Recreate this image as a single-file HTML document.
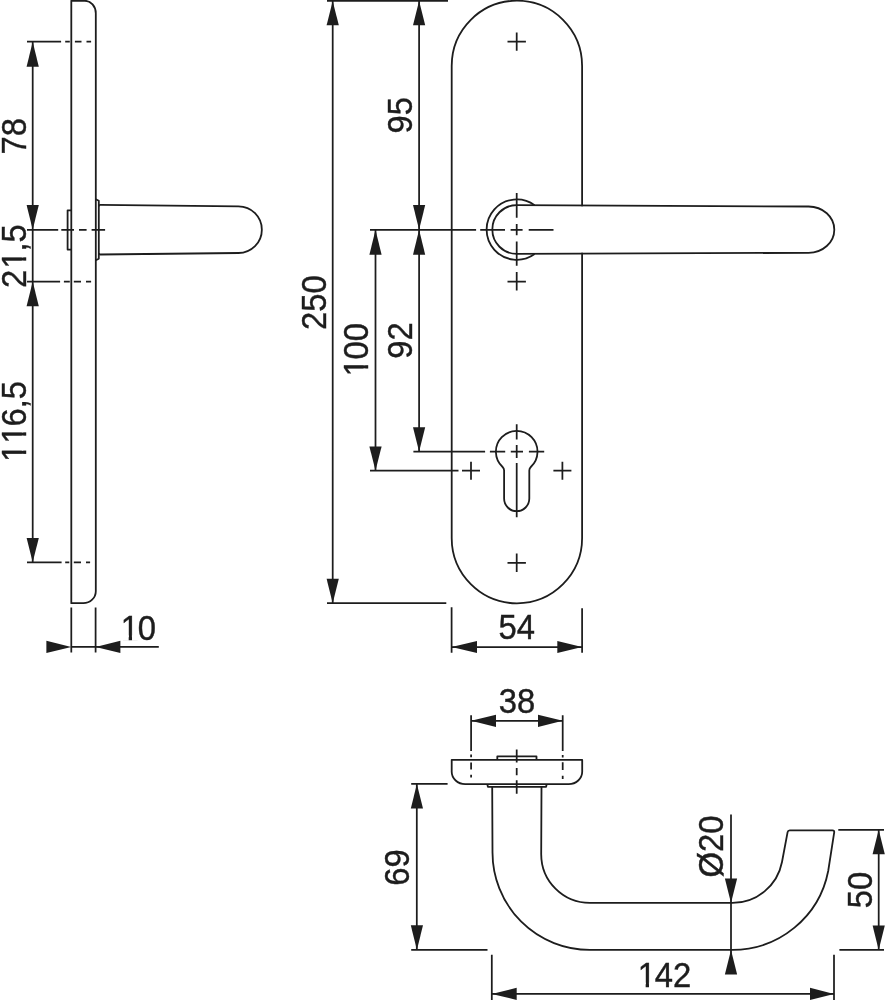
<!DOCTYPE html>
<html>
<head>
<meta charset="utf-8">
<title>Drawing</title>
<style>
html,body{margin:0;padding:0;background:#fff;}
body{width:886px;height:1000px;overflow:hidden;}
svg{display:block;will-change:transform;filter:grayscale(1);}
text{font-family:"Liberation Sans",sans-serif;font-size:32.8px;fill:#1d1d1b;stroke:#1d1d1b;stroke-width:0.4px;font-kerning:none;}
.o{fill:none;stroke:#1d1d1b;stroke-width:1.8;stroke-linecap:butt;stroke-linejoin:round;}
.d{fill:none;stroke:#1d1d1b;stroke-width:1.75;}
.a{fill:#1d1d1b;stroke:none;}
</style>
</head>
<body>
<svg width="886" height="1000" viewBox="0 0 886 1000">
<rect width="886" height="1000" fill="#fff"/>

<!-- ================= SIDE VIEW ================= -->
<g id="side">
<path class="o" d="M71.3 0.8 H84.8 A11 12.5 0 0 1 95.8 13.3 V591.2 A12.5 12 0 0 1 83.3 603.2 H71.3 Z"/>
<!-- spindle back -->
<path class="o" d="M71.3 210.3 H67.6 V249.6 H71.3"/>
<!-- rose -->
<path class="o" d="M95.8 199.2 L98.8 200.8 V258.6 L95.8 260.2"/>
<!-- handle -->
<path class="o" d="M98.8 206.4 Q98.8 204.9 100.3 204.9 L238.5 206.3 A23.35 23.35 0 0 1 238.5 253 L100.3 254.5 Q98.8 254.5 98.8 253"/>
<!-- extension / centre lines -->
<path class="d" d="M27 41.7 H61.1 M65.2 41.7 H69.8 M74.9 41.7 H81.5 M86.5 41.7 H91.1"/>
<path class="d" d="M27 229.8 H58.2 M61.3 229.8 H74 M79 229.8 H86.6 M91.6 229.8 H105.1"/>
<path class="d" d="M27 281.6 H60.1 M63.9 281.6 H69.8 M73.8 281.6 H81 M86 281.6 H91.1"/>
<path class="d" d="M27 562.4 H61.6 M65.2 562.4 H69.3 M73.8 562.4 H81 M86 562.4 H90.1"/>
<!-- dim line -->
<path class="d" d="M32.7 41.7 V562.3"/>
<path class="a" d="M32.7 41.7 L26.6 66.8 H38.8 Z"/>
<path class="a" d="M32.7 229.8 L26.6 205.1 H38.8 Z"/>
<path class="a" d="M32.7 281.6 L26.6 306.2 H38.8 Z"/>
<path class="a" d="M32.7 562.3 L26.6 537.9 H38.8 Z"/>
<!-- 10 -->
<path class="d" d="M71.3 607.4 V652.5 M95.6 607.4 V652.5 M71.3 646.9 H158.8"/>
<path class="a" d="M71.3 646.9 L46.4 640.8 V653 Z"/>
<path class="a" d="M95.6 646.9 L120.4 640.8 V653 Z"/>
</g>

<!-- ================= FRONT VIEW ================= -->
<g id="front">
<path class="o" d="M582.1 206.3 V65.9 A65.2 65.2 0 0 0 451.7 65.9 V538.1 A65.2 65.2 0 0 0 582.1 538.1 V252.8"/>
<!-- crosses -->
<path class="d" d="M507.5 41.6 H525.9 M516.7 32.4 V50.8"/>
<path class="d" d="M507.5 281.6 H525.9 M516.7 272.1 V290.5"/>
<path class="d" d="M462 470.7 H480 M471 461.7 V479.7"/>
<path class="d" d="M553.4 470.7 H571.4 M562.4 461.7 V479.7"/>
<path class="d" d="M507.5 562.8 H525.9 M516.7 553.6 V572"/>
<!-- rose ring -->
<path class="o" d="M534.6 205.2 A30.2 30.2 0 1 0 534.6 254"/>
<!-- handle -->
<path class="o" d="M516.7 253.9 A24.4 24.4 0 0 1 516.7 205.1 L808.6 206.5 A25.7 23.15 0 0 1 808.6 252.8 Z"/>
<!-- centre lines -->
<path class="d" d="M370 229.8 H476.1 M480.2 229.8 H505 M510.6 229.8 H522.6 M528.7 229.8 H553.5"/>
<path class="d" d="M516.7 192.9 V217.7 M516.7 223.9 V235.3 M516.7 241.4 V265.7"/>
<!-- keyhole -->
<path class="o" d="M502.6 467 A20.8 20.8 0 1 1 530.8 467 Q529.3 468.4 529.3 470.6 V498.6 A12.6 12.6 0 0 1 504.1 498.6 V470.6 Q504.1 468.4 502.6 467 Z"/>
<path class="d" d="M413.4 451.7 H485.1 M489.9 451.7 H505.2 M510.8 451.7 H523 M528.9 451.7 H544.2"/>
<path class="d" d="M516.7 424.2 V439.6 M516.7 445 V458 M516.7 463 V517.2"/>
<path class="d" d="M370 470.7 H458.5"/>
<!-- dims -->
<path class="d" d="M327 0.7 H448" style="stroke-width:2"/>
<path class="d" d="M327 603.2 H446.3"/>
<path class="d" d="M332.7 1 V603 M419.1 1 V451.7 M375.5 229.8 V470.7"/>
<path class="a" d="M332.7 1 L326.6 25.3 H338.8 Z"/>
<path class="a" d="M332.7 603.2 L326.6 578.7 H338.8 Z"/>
<path class="a" d="M419.1 1 L413 25.3 H425.2 Z"/>
<path class="a" d="M419.1 229.8 L413 205.1 H425.2 Z"/>
<path class="a" d="M419.1 229.8 L413 254.7 H425.2 Z"/>
<path class="a" d="M419.1 451.7 L413 427.2 H425.2 Z"/>
<path class="a" d="M375.5 229.8 L369.4 254.7 H381.6 Z"/>
<path class="a" d="M375.5 470.7 L369.4 446.5 H381.6 Z"/>
<!-- 54 -->
<path class="d" d="M451.6 607.2 V652.7 M582.1 608.3 V652.7 M451.6 647 H582.1"/>
<path class="a" d="M451.6 647 L477 640.9 V653.1 Z"/>
<path class="a" d="M582.1 647 L557.3 640.9 V653.1 Z"/>
</g>

<!-- ================= TOP VIEW ================= -->
<g id="top">
<!-- rose -->
<path class="o" d="M451.7 759.8 H582.2 V771.8 A13.5 12.3 0 0 1 568.7 784.1 H465.2 A13.5 12.3 0 0 1 451.7 771.8 Z"/>
<path class="o" d="M497.3 759.8 V756.4 H536.5 V759.8"/>
<path class="o" d="M487.3 784.1 L487.9 786.8 H546.1 L546.7 784.1"/>
<!-- handle body -->
<path class="o" d="M492.2 786.8 L492.5 852.6 A97.3 97.3 0 0 0 589.8 949.9 H732.4 A97.5 97.5 0 0 0 828.2 871 L834.2 832.4 Q834.5 830.4 832.5 830.4 H789.7 Q787.9 830.4 787.6 832.2 L782 862 A50.5 50.5 0 0 1 732.4 902.9 H589.9 A48.7 48.7 0 0 1 541.2 854.2 L541.5 786.8"/>
<!-- centre & ext lines -->
<path class="d" d="M516.7 749.5 V762.6 M516.7 768 V775.3 M516.7 780.2 V793.8"/>
<path class="d" d="M471.1 715.2 V751 M471.1 754.5 V757.3 M471.1 762.6 V769.5 M471.1 774.8 V777.4"/>
<path class="d" d="M562.7 715.2 V751.1 M562.7 754.9 V757.6 M562.7 762.2 V770.1 M562.7 775.7 V779.1"/>
<path class="d" d="M471.1 720.8 H562.8"/>
<path class="a" d="M471.1 720.8 L496 714.7 V726.9 Z"/>
<path class="a" d="M562.8 720.8 L538 714.7 V726.9 Z"/>
<!-- 69 -->
<path class="d" d="M411.2 783.9 H447.6 M411.2 949.9 H487.5 M416.8 783.9 V949.9"/>
<path class="a" d="M416.9 783.9 L410.8 808.5 H423 Z"/>
<path class="a" d="M416.9 949.9 L410.8 925.3 H423 Z"/>
<!-- Ø20 -->
<path class="d" d="M731 814.4 V974"/>
<path class="a" d="M731 902.9 L724.9 878.5 H737.1 Z"/>
<path class="a" d="M731 949.9 L724.9 974.6 H737.1 Z"/>
<!-- 50 -->
<path class="d" d="M838.3 829.8 H884 M839.4 949.9 H884 M878.7 829.8 V949.9"/>
<path class="a" d="M878.7 829.8 L872.6 854.2 H884.8 Z"/>
<path class="a" d="M878.7 949.9 L872.6 925.5 H884.8 Z"/>
<!-- 142 -->
<path class="d" d="M491.8 954.7 V1000 M834 954.7 V1000 M491.8 993.9 H834"/>
<path class="a" d="M491.8 993.9 L516.7 987.8 V1000 Z"/>
<path class="a" d="M834 993.9 L810 987.8 V1000 Z"/>
</g>

<g id="labels">
<g transform="translate(25.9 136.3) rotate(-90) scale(1 1.055)">
<text x="-18.24" y="0">78</text>
</g>
<g transform="translate(26.0 256.1) rotate(-90) scale(1 1.055)">
<text x="-31.92" y="0" dx="0.00 1.10 -1.10 0.00">21,5</text>
<rect x="-11.29" y="-4" width="6.73" height="5.2" fill="#fff"/>
<rect x="-1.22" y="-4" width="6.47" height="5.2" fill="#fff"/>
</g>
<g transform="translate(26.0 422.0) rotate(-90) scale(1 1.055)">
<text x="-41.04" y="0" dx="1.10 0.00 -1.10 0.00 0.00">116,5</text>
<rect x="-38.64" y="-4" width="6.73" height="5.2" fill="#fff"/>
<rect x="-28.57" y="-4" width="6.47" height="5.2" fill="#fff"/>
<rect x="-20.41" y="-4" width="6.73" height="5.2" fill="#fff"/>
<rect x="-10.34" y="-4" width="6.47" height="5.2" fill="#fff"/>
</g>
<g transform="translate(137.8 639.5) rotate(0) scale(1 1.055)">
<text x="-18.24" y="0" dx="1.10 -1.10">10</text>
<rect x="-15.84" y="-4" width="6.73" height="5.2" fill="#fff"/>
<rect x="-5.78" y="-4" width="6.47" height="5.2" fill="#fff"/>
</g>
<g transform="translate(326.1 302.6) rotate(-90) scale(1 1.055)">
<text x="-27.37" y="0">250</text>
</g>
<g transform="translate(412.0 115.3) rotate(-90) scale(1 1.055)">
<text x="-18.24" y="0">95</text>
</g>
<g transform="translate(367.7 350.3) rotate(-90) scale(1 1.055)">
<text x="-27.37" y="0" dx="1.10 -1.10 0.00">100</text>
<rect x="-24.97" y="-4" width="6.73" height="5.2" fill="#fff"/>
<rect x="-14.90" y="-4" width="6.47" height="5.2" fill="#fff"/>
</g>
<g transform="translate(412.0 340.6) rotate(-90) scale(1 1.055)">
<text x="-18.24" y="0">92</text>
</g>
<g transform="translate(516.8 639.3) rotate(0) scale(1 1.055)">
<text x="-18.24" y="0">54</text>
</g>
<g transform="translate(517.0 713.2) rotate(0) scale(1 1.055)">
<text x="-18.24" y="0">38</text>
</g>
<g transform="translate(409.2 867.4) rotate(-90) scale(1 1.055)">
<text x="-18.24" y="0">69</text>
</g>
<g transform="translate(723.4 846.4) rotate(-90) scale(1 1.055)">
<text x="-31.00" y="0">Ø20</text>
</g>
<g transform="translate(872.2 890.1) rotate(-90) scale(1 1.055)">
<text x="-18.24" y="0">50</text>
</g>
<g transform="translate(663.9 986.8) rotate(0) scale(1 1.055)">
<text x="-27.37" y="0" dx="1.10 -1.10 0.00">142</text>
<rect x="-24.97" y="-4" width="6.73" height="5.2" fill="#fff"/>
<rect x="-14.90" y="-4" width="6.47" height="5.2" fill="#fff"/>
</g>
</g>
</svg>
</body>
</html>
